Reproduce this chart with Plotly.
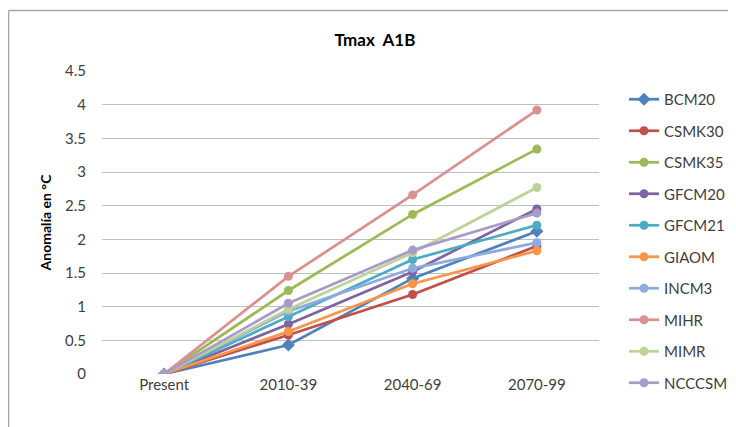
import plotly.graph_objects as go

periods = ["Present", "2010-39", "2040-69", "2070-99"]
models = ["BCM20", "CSMK30", "CSMK35", "GFCM20", "GFCM21", "GIAOM", "INCM3", "MIHR", "MIMR", "NCCCSM"]
BCM20 = [0, 0.43, 1.42, 2.12]
CSMK30 = [0, 0.58, 1.18, 1.90]
CSMK35 = [0, 1.24, 2.37, 3.34]
GFCM20 = [0, 0.74, 1.52, 2.45]
GFCM21 = [0, 0.85, 1.70, 2.21]
GIAOM = [0, 0.63, 1.34, 1.83]
INCM3 = [0, 0.93, 1.57, 1.95]
MIHR = [0, 1.45, 2.66, 3.92]
MIMR = [0, 0.96, 1.80, 2.77]
NCCCSM = [0, 1.05, 1.84, 2.39]
series = [BCM20, CSMK30, CSMK35, GFCM20, GFCM21, GIAOM, INCM3, MIHR, MIMR, NCCCSM]
colors = ["#4F81BD", "#C0504D", "#9BBB59", "#8064A2", "#4BACC6", "#F79646",
          "#8FAADC", "#DA918F", "#BCD496", "#A99BC9"]
symbols = ["diamond"] + ["circle"] * 9

fig = go.Figure()
for i, (name, vals) in enumerate(zip(models, series)):
    fig.add_trace(go.Scatter(
        x=periods, y=vals, name=name, mode="lines+markers",
        line=dict(color=colors[i], width=2.75),
        marker=dict(color=colors[i], symbol=symbols[i], size=9 if i else 10),
        legendgroup=name,
    ))

# page has an 8px body margin: work in page pixels, convert to figure pixels
OFF = 8
FW, FH = 736 - OFF, 427 - OFF
L, T, W, H = 102 - OFF, 71 - OFF, 497, 303
def px(x):
    return (x - OFF - L) / W
def py(y):
    return (T + H - (y - OFF)) / H

fig.update_layout(
    width=FW, height=FH,
    margin=dict(l=L, r=FW - L - W, t=T, b=FH - T - H, autoexpand=False),
    paper_bgcolor="white", plot_bgcolor="white",
    font=dict(family="Lato, Open Sans, sans-serif", color="#404040", size=15),
    title=dict(text="<b>Tmax  A1B</b>", x=(375 - OFF) / FW, xanchor="center",
               y=1 - (40 - OFF) / FH, yanchor="middle",
               font=dict(size=17, color="#000000")),
    xaxis=dict(type="category", range=[-0.5, 3.5], showgrid=False, showline=False,
               ticks="", tickfont=dict(size=15, color="#404040")),
    yaxis=dict(range=[0, 4.5], dtick=0.5, showgrid=True, gridcolor="#BFBFBF", gridwidth=1,
               zeroline=False, showline=False, ticks="", tickformat="~g",
               ticklabelstandoff=15,
               title=dict(text="<b>Anomalía en °C</b>", font=dict(size=14, color="#000000"), standoff=10),
               tickfont=dict(size=15, color="#404040")),
    legend=dict(x=px(624), xanchor="left", y=py(83), yanchor="top",
                font=dict(size=15, color="#404040"), tracegroupgap=9,
                bgcolor="rgba(0,0,0,0)", itemwidth=30, maxheight=400),
    showlegend=True,
    shapes=[
        dict(type="line", xref="paper", yref="paper", x0=px(8.5), x1=px(8.5), y0=py(430), y1=py(10.5),
             line=dict(color="#A6A6A6", width=1.5), layer="below"),
        dict(type="line", xref="paper", yref="paper", x0=px(8.5), x1=px(740), y0=py(10.5), y1=py(10.5),
             line=dict(color="#A6A6A6", width=1.5), layer="below"),
    ],
)

fig.write_html("out.html")
